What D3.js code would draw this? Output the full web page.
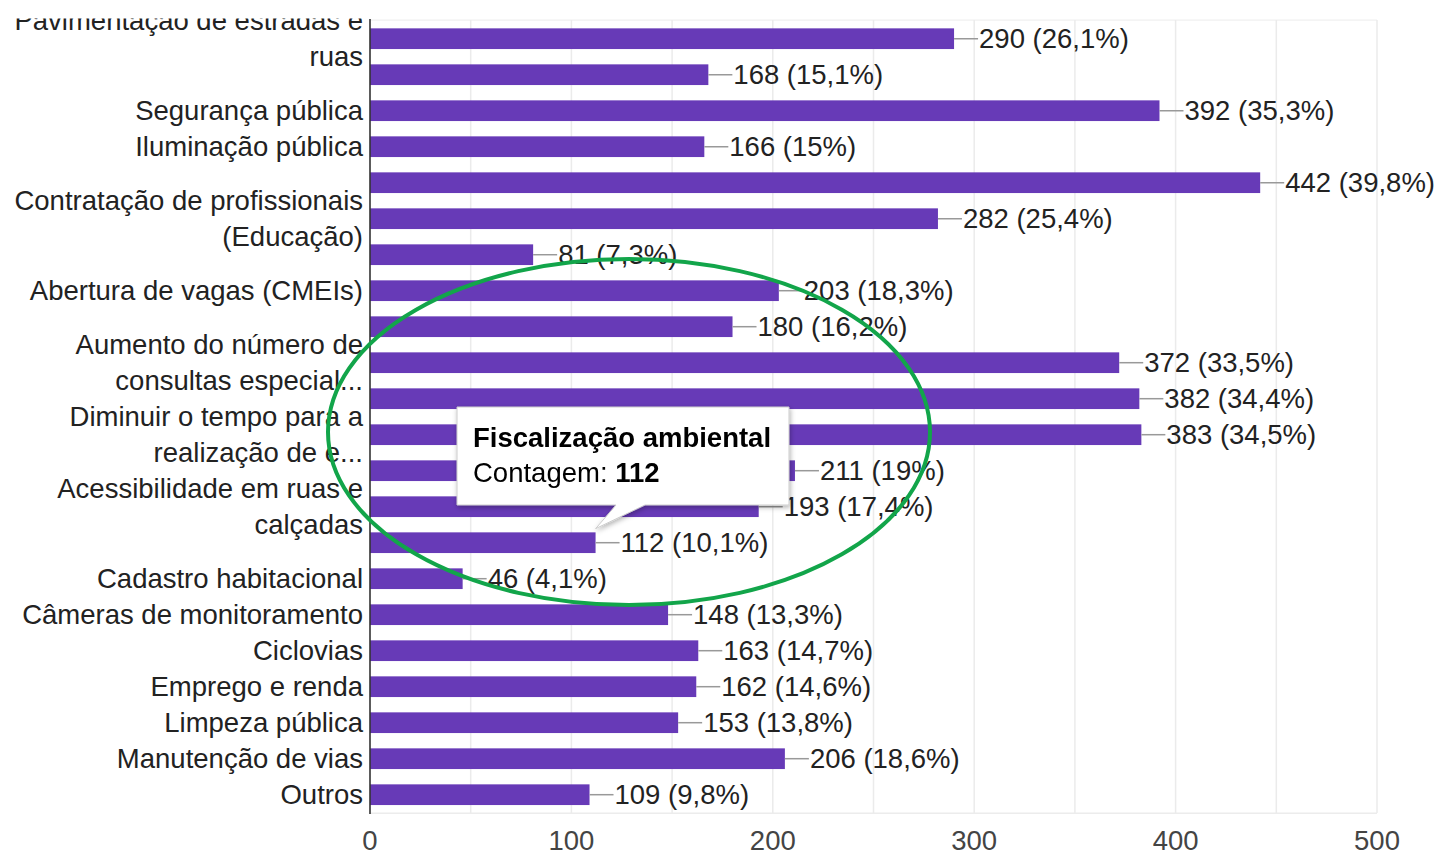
<!DOCTYPE html>
<html><head><meta charset="utf-8">
<script src="https://cdn.jsdelivr.net/npm/d3@7"></script>
<style>html,body{margin:0;padding:0;background:#fff;overflow:hidden}</style>
</head><body>
<svg id="chart" width="1438" height="857"></svg>
<script>
// ---- data ----
const categoryLabels = [
  ["Pavimentação de estradas e", "ruas"],
  [],
  ["Segurança pública"],
  ["Iluminação pública"],
  [],
  ["Contratação de profissionais", "(Educação)"],
  [],
  ["Abertura de vagas (CMEIs)"],
  [],
  ["Aumento do número de", "consultas especial..."],
  [],
  ["Diminuir o tempo para a", "realização de e..."],
  [],
  ["Acessibilidade em ruas e", "calçadas"],
  [],
  ["Cadastro habitacional"],
  ["Câmeras de monitoramento"],
  ["Ciclovias"],
  ["Emprego e renda"],
  ["Limpeza pública"],
  ["Manutenção de vias"],
  ["Outros"]
];
const counts = [290, 168, 392, 166, 442, 282, 81, 203, 180, 372, 382, 383, 211, 193, 112, 46, 148, 163, 162, 153, 206, 109];
const percents = ["26,1%", "15,1%", "35,3%", "15%", "39,8%", "25,4%", "7,3%", "18,3%", "16,2%", "33,5%", "34,4%", "34,5%", "19%", "17,4%", "10,1%", "4,1%", "13,3%", "14,7%", "14,6%", "13,8%", "18,6%", "9,8%"];
const xTicks = [0, 100, 200, 300, 400, 500];
const xGrid = [50, 100, 150, 200, 250, 300, 350, 400, 450, 500];
const tooltipIndex = 14;
const tooltipTitle = "Fiscalização ambiental";
const tooltipLabel = "Contagem: ";

// ---- layout ----
const FONT = "'Liberation Sans', Arial, sans-serif";
const FS = 27.5;
const svg = d3.select("#chart");
const idx = d3.range(counts.length);
const x = d3.scaleLinear().domain([0, 500]).range([370, 1377]);
const y = d3.scaleBand().domain(idx).range([20.7, 812.7]).paddingInner(0.425).paddingOuter(0.2125);

const defs = svg.append("defs");
defs.append("clipPath").attr("id", "clip").append("rect").attr("x", 0).attr("y", 18.5).attr("width", 1438).attr("height", 840);
const f = defs.append("filter").attr("id", "shadow").attr("x", "-10%").attr("y", "-10%").attr("width", "130%").attr("height", "140%");
f.append("feDropShadow").attr("dx", 1).attr("dy", 2).attr("stdDeviation", 2.5).attr("flood-color", "#000").attr("flood-opacity", 0.3);

const g = svg.append("g").attr("clip-path", "url(#clip)");

// plot frame lines
g.append("line").attr("x1", x(0)).attr("x2", x(500)).attr("y1", 20.2).attr("y2", 20.2).attr("stroke", "#f0f0f0").attr("stroke-width", 1.2);
g.append("line").attr("x1", x(0)).attr("x2", x(500)).attr("y1", 813.2).attr("y2", 813.2).attr("stroke", "#ececec").attr("stroke-width", 1.5);

// gridlines
g.selectAll("line.grid").data(xGrid).enter().append("line")
  .attr("class", "grid")
  .attr("x1", d => x(d)).attr("x2", d => x(d))
  .attr("y1", 20).attr("y2", 813)
  .attr("stroke", "#ebebeb").attr("stroke-width", 1.5);

// bars
g.selectAll("rect.bar").data(idx).enter().append("rect")
  .attr("class", "bar")
  .attr("x", x(0)).attr("y", i => y(i))
  .attr("width", i => x(counts[i]) - x(0))
  .attr("height", y.bandwidth())
  .attr("fill", "#673ab7");

// leader lines
g.selectAll("line.lead").data(idx).enter().append("line")
  .attr("class", "lead")
  .attr("x1", i => x(counts[i])).attr("x2", i => x(counts[i]) + 24)
  .attr("y1", i => y(i) + y.bandwidth() / 2).attr("y2", i => y(i) + y.bandwidth() / 2)
  .attr("stroke", "#999").attr("stroke-width", 1.5);

// value labels
g.selectAll("text.val").data(idx).enter().append("text")
  .attr("class", "val")
  .attr("x", i => x(counts[i]) + 25)
  .attr("y", i => y(i) + y.bandwidth() / 2 + 9.5)
  .attr("font-family", FONT).attr("font-size", FS).attr("fill", "#222")
  .text(i => counts[i] + " (" + percents[i] + ")");

// category labels
const cat = g.selectAll("text.cat").data(idx).enter().append("text")
  .attr("class", "cat")
  .attr("text-anchor", "end")
  .attr("font-family", FONT).attr("font-size", FS).attr("fill", "#222");
cat.each(function (i) {
  const lines = categoryLabels[i];
  const cy = y(i) + y.bandwidth() / 2;
  const n = lines.length;
  lines.forEach((ln, k) => {
    d3.select(this).append("tspan")
      .attr("x", 363)
      .attr("y", cy + 9 + (k - (n - 1) / 2) * 36)
      .text(ln);
  });
});

// baseline axis
g.append("line").attr("x1", x(0)).attr("x2", x(0)).attr("y1", 19).attr("y2", 814)
  .attr("stroke", "#333").attr("stroke-width", 1.6);

// x tick labels
svg.selectAll("text.tick").data(xTicks).enter().append("text")
  .attr("class", "tick")
  .attr("x", d => x(d)).attr("y", 850)
  .attr("text-anchor", "middle")
  .attr("font-family", FONT).attr("font-size", FS).attr("fill", "#444")
  .text(d => d);

// tooltip
const tx = 457, ty = 407, tw = 332, th = 98;
const tipX = x(counts[tooltipIndex]), tipY = y(tooltipIndex) + y.bandwidth() / 2 - 14;
const tip = g.append("g").attr("filter", "url(#shadow)");
tip.append("path")
  .attr("d", `M${tx},${ty} H${tx + tw} V${ty + th} H${645} L${tipX},${tipY} L${616},${ty + th} H${tx} Z`)
  .attr("fill", "#fff").attr("stroke", "#ccc").attr("stroke-width", 1);
tip.append("text").attr("x", 473).attr("y", 446.5)
  .attr("font-family", FONT).attr("font-size", FS).attr("font-weight", "bold").attr("fill", "#000")
  .text(tooltipTitle);
const t2 = tip.append("text").attr("x", 473).attr("y", 482)
  .attr("font-family", FONT).attr("font-size", FS).attr("fill", "#000");
t2.append("tspan").text(tooltipLabel);
t2.append("tspan").attr("font-weight", "bold").text(counts[tooltipIndex]);

// green annotation ellipse
g.append("ellipse").attr("cx", 629).attr("cy", 432).attr("rx", 301).attr("ry", 173)
  .attr("fill", "none").attr("stroke", "#12a54a").attr("stroke-width", 4);
</script>
</body></html>
